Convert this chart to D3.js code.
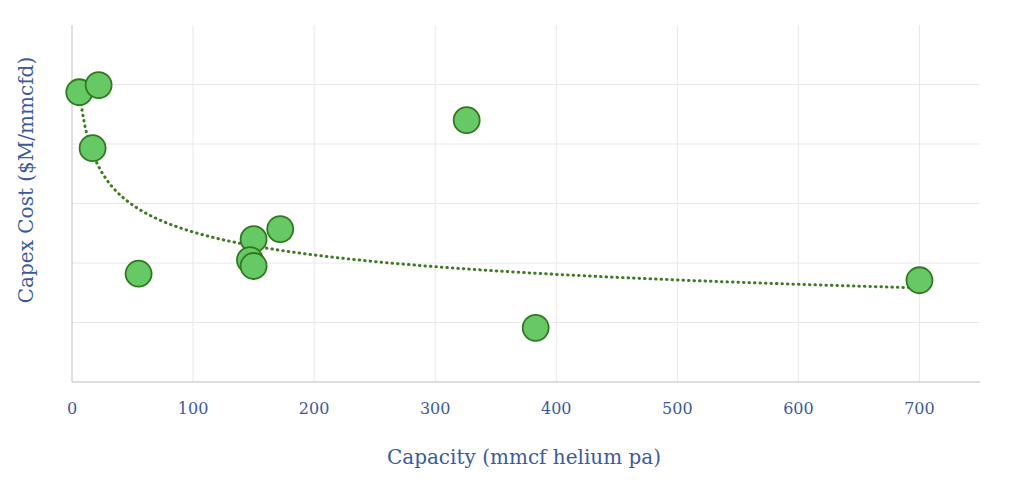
<!DOCTYPE html><html><head><meta charset="utf-8">
<script src="https://cdn.jsdelivr.net/npm/d3@7"></script>
<style>body{margin:0;background:#fff}</style></head><body>
<svg id="c" width="1024" height="488"></svg>
<script>
const capacity=[6,22,17,55,326,383,150,172,147,150,700];
const capex=[4.87,4.99,3.93,1.82,4.40,0.91,2.40,2.57,2.05,1.95,1.71];
const xTicks=[0,100,200,300,400,500,600,700];
const yTicks=[0,1,2,3,4,5,6];
const svg=d3.select("#c");
const x=d3.scaleLinear().domain([0,750]).range([72,980]);
const y=d3.scaleLinear().domain([0,6]).range([382,25]);
const font="'DejaVu Serif',serif", col="#3b5a9a";
svg.append("g").selectAll("line").data(xTicks.slice(1)).join("line")
 .attr("x1",d=>x(d)).attr("x2",d=>x(d)).attr("y1",25).attr("y2",382).attr("stroke","#e8e8e8");
svg.append("g").selectAll("line").data(yTicks.slice(1,6)).join("line")
 .attr("x1",72).attr("x2",980).attr("y1",d=>y(d)).attr("y2",d=>y(d)).attr("stroke","#e8e8e8");
svg.append("line").attr("x1",72).attr("x2",72).attr("y1",25).attr("y2",382).attr("stroke","#bfbfbf");
svg.append("line").attr("x1",72).attr("x2",980).attr("y1",382).attr("y2",382).attr("stroke","#bfbfbf");
svg.append("g").selectAll("text").data(xTicks).join("text").attr("x",d=>x(d)).attr("y",414)
 .attr("text-anchor","middle").attr("font-family",font).attr("font-size",16).attr("fill",col).text(d=>d);
svg.append("text").attr("x",524).attr("y",464).attr("text-anchor","middle").attr("font-family",font)
 .attr("font-size",20).attr("fill",col).text("Capacity (mmcf helium pa)");
svg.append("text").attr("transform","translate(33,180) rotate(-90)").attr("text-anchor","middle").attr("font-family",font)
 .attr("font-size",20).attr("fill",col).text("Capex Cost ($M/mmcfd)");
const lx=capacity.map(Math.log), ly=capex.map(Math.log);
const mx=d3.mean(lx), my=d3.mean(ly);
const b=d3.sum(lx.map((v,i)=>(v-mx)*(ly[i]-my)))/d3.sum(lx.map(v=>(v-mx)**2));
const a=Math.exp(my-b*mx);
const xs=d3.range(0,201).map(i=>6*Math.pow(700/6,i/200));
svg.append("path").attr("d",d3.line().x(d=>x(d)).y(d=>y(a*Math.pow(d,b)))(xs))
 .attr("fill","none").attr("stroke","#3d7a22").attr("stroke-width",3).attr("stroke-dasharray","0.5,5").attr("stroke-linecap","round");
svg.append("g").selectAll("circle").data(capacity).join("circle").attr("cx",d=>x(d)).attr("cy",(d,i)=>y(capex[i]))
 .attr("r",13).attr("fill","#66c966").attr("stroke","#2f7a1e").attr("stroke-width",1.8);
</script></body></html>
